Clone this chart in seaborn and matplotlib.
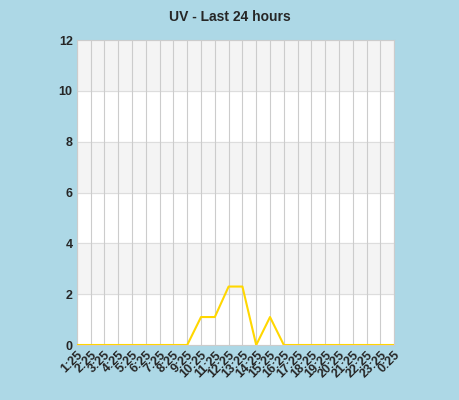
import matplotlib
matplotlib.use("Agg")
import matplotlib.pyplot as plt
import seaborn as sns

# Data
hours = ["1:25", "2:25", "3:25", "4:25", "5:25", "6:25", "7:25", "8:25", "9:25",
         "10:25", "11:25", "12:25", "13:25", "14:25", "15:25", "16:25", "17:25",
         "18:25", "19:25", "20:25", "21:25", "22:25", "23:25", "0:25"]
uv = [0, 0, 0, 0, 0, 0, 0, 0, 0, 1.1, 1.1, 2.3, 2.3, 0, 1.1, 0, 0, 0, 0, 0, 0, 0, 0, 0]
y_ticks = [0, 2, 4, 6, 8, 10, 12]

sns.set_style("white")
plt.rcParams["font.family"] = ["Liberation Sans", "DejaVu Sans"]

fig = plt.figure(figsize=(4.6, 4.0), dpi=100, facecolor="#ADD8E6")
ax = fig.add_axes([0.167, 0.1375, 0.69, 0.7625])
ax.set_facecolor("white")

# alternating bands
for lo in range(0, 12, 2):
    if (lo // 2) % 2 == 1:
        ax.axhspan(lo, lo + 2, color="#f4f4f4", zorder=0)
for y in y_ticks:
    ax.axhline(y, color="#dddddd", lw=0.8, zorder=1)

x = list(range(len(hours)))
for xi in x:
    ax.axvline(xi, color="#cccccc", lw=0.8, zorder=1)

sns.lineplot(x=x, y=uv, ax=ax, color="#FFD700", lw=1.5, zorder=3)

ax.set_xlim(0, len(hours) - 1)
ax.set_ylim(0, 12)
ax.set_yticks(y_ticks)
ax.set_yticklabels([str(v) for v in y_ticks], fontsize=9, fontweight="bold")
ax.set_xticks(x)
ax.set_xticklabels(hours, rotation=45, ha="right", rotation_mode="anchor",
                   fontsize=9, fontweight="bold")
ax.tick_params(length=0, pad=3)
for s in ax.spines.values():
    s.set_color("#cccccc")
    s.set_linewidth(0.8)

fig.text(0.5, 0.975, "UV - Last 24 hours", ha="center", va="top",
         fontsize=10, fontweight="bold")

fig.savefig("out.png", dpi=100, facecolor=fig.get_facecolor())
